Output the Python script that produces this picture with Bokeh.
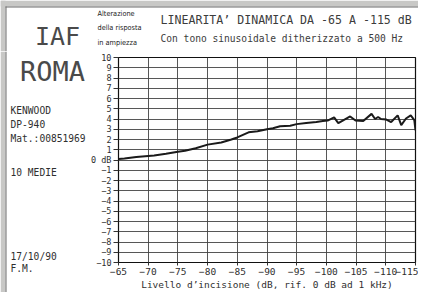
from bokeh.plotting import figure
from bokeh.models import Range1d, SingleIntervalTicker, Label, BoxAnnotation
from bokeh.layouts import column, row
from bokeh.embed import file_html
from bokeh.resources import INLINE

# ---- data ----
level_db = [-65, -66, -68, -70, -71, -73, -75, -76.2, -78, -80, -82.3, -84, -85, -86.9,
            -88.4, -90, -91, -92.2, -93.9, -95, -96.6, -98.3, -99.4, -100.2, -101.3,
            -102, -102.9, -104, -104.9, -106.2, -107.6, -108.2, -108.7, -109.2,
            -110.1, -110.9, -112, -112.6, -113.4, -114.2, -114.8, -115]
response_db = [0.1, 0.15, 0.3, 0.4, 0.45, 0.6, 0.8, 0.9, 1.15, 1.5, 1.7, 2.0, 2.2, 2.7,
               2.8, 3.0, 3.1, 3.3, 3.35, 3.5, 3.6, 3.7, 3.8, 3.85, 4.15,
               3.6, 3.9, 4.25, 3.85, 3.8, 4.5, 4.0, 4.2, 4.0,
               3.95, 3.7, 4.35, 3.4, 4.05, 4.35, 3.9, 2.9]

x_ticks = [-65, -70, -75, -80, -85, -90, -95, -100, -105, -110, -115]
y_ticks = list(range(-10, 11))

title = "LINEARITA\u2019 DINAMICA DA -65 A -115 dB"
subtitle = "Con tono sinusoidale ditherizzato a 500 Hz"
x_title = "Livello d\u2019incisione (dB, rif. 0 dB ad 1 kHz)"
y_title_lines = ["Alterazione", "della risposta", "in ampiezza"]
left_notes = ["KENWOOD", "DP-940", "Mat.:00851969", "10 MEDIE", "17/10/90", "F.M."]

FONT = "DejaVu Sans Mono"
INK = "#2f2f2f"
BG = "#ffffff"
EDGE = "#c8c8c6"
EDGE_LINE = "#6a6a6a"

W, H = 418, 292
TOP_H = 51
LEFT_W = 88

def no_align(f):
    if "frame_align" in f.properties():
        f.frame_align = False

def text_panel(w, h, x0, y0):
    f = figure(width=w, height=h, output_backend="svg", toolbar_location=None,
               x_range=Range1d(x0, x0 + w), y_range=Range1d(y0 + h, y0),
               x_axis_type=None, y_axis_type=None, min_border=0,
               background_fill_color=BG, border_fill_color=BG)
    f.outline_line_color = None
    no_align(f)
    return f

def put(f, text, px, py, size, align="left", color=INK, font=FONT, style="normal"):
    f.add_layout(Label(x=px, y=py, text=text, text_font=font, text_font_size=size,
                       text_font_style=style, text_color=color, text_align=align,
                       text_baseline="middle"))

def band(f, l, r, t, b, color):
    f.add_layout(BoxAnnotation(left=l, right=r, top=t, bottom=b, fill_color=color,
                               fill_alpha=1.0, line_color=None))

# top strip
top = text_panel(W, TOP_H, 0, 0)
band(top, 0, W, 0, 6, EDGE)
band(top, 0, 5, 0, TOP_H, EDGE)
band(top, 5, W, 6, 7, EDGE_LINE)
band(top, 5, 6, 6, TOP_H, EDGE_LINE)
put(top, title, 160, 19, "11.6px", color="#3c3c3c")
put(top, subtitle, 160, 38, "9.6px", color="#3c3c3c")
for t, yy in zip(y_title_lines, [13, 27, 42]):
    put(top, t, 97, yy, "7.3px", color="#222222", font="DejaVu Sans Condensed")
put(top, "IAF", 57, 36, "25px", align="center", color="#4a4a4a")

# left strip
left = text_panel(LEFT_W, H - TOP_H, 0, TOP_H)
band(left, 0, 5, TOP_H, H, EDGE)
band(left, 5, 6, TOP_H, H, EDGE_LINE)
put(left, "ROMA", 52, 71, "27px", align="center", color="#4a4a4a")
for t, yy in zip(left_notes, [110, 124, 138, 172, 256, 268]):
    put(left, t, 10, yy, "9.6px")

# main chart: frame x 116..415, y 57..262
p = figure(width=W - LEFT_W, height=H - TOP_H, output_backend="svg", toolbar_location=None,
           x_range=Range1d(-65, -115), y_range=Range1d(-10, 10),
           min_border_left=28, min_border_right=3, min_border_top=6,
           min_border_bottom=30, background_fill_color=BG, border_fill_color=BG)
no_align(p)
p.outline_line_color = "#111111"
p.outline_line_width = 1.2

p.xgrid.ticker = SingleIntervalTicker(interval=5)
p.ygrid.ticker = SingleIntervalTicker(interval=1)
for g in (p.xgrid, p.ygrid):
    g.grid_line_color = "#444444"
    g.grid_line_width = 0.9
    g.grid_line_alpha = 1.0

p.xaxis.ticker = x_ticks
p.yaxis.ticker = y_ticks
p.yaxis.major_label_overrides = {0: "0 dB"}
for ax in (p.xaxis, p.yaxis):
    ax.axis_line_color = "#111111"
    ax.major_tick_line_color = "#333333"
    ax.minor_tick_line_color = None
    ax.major_tick_in = 0
    ax.major_label_text_font = FONT
    ax.major_label_text_color = INK
p.yaxis.major_tick_out = 5
p.xaxis.major_tick_out = 3
p.yaxis.major_label_standoff = 2
p.xaxis.major_label_standoff = 2
p.yaxis.major_label_text_font_size = "8.5px"
p.xaxis.major_label_text_font_size = "9.5px"
p.xaxis.axis_label = x_title
p.xaxis.axis_label_text_font = FONT
p.xaxis.axis_label_text_font_size = "9.5px"
p.xaxis.axis_label_text_font_style = "normal"
p.xaxis.axis_label_text_color = INK
p.xaxis.axis_label_standoff = 1

p.line(level_db, response_db, line_color="#1a1a1a", line_width=2.0)

layout = column(top, row(left, p, spacing=0), spacing=0)
open("out.html", "w").write(file_html(layout, INLINE))
